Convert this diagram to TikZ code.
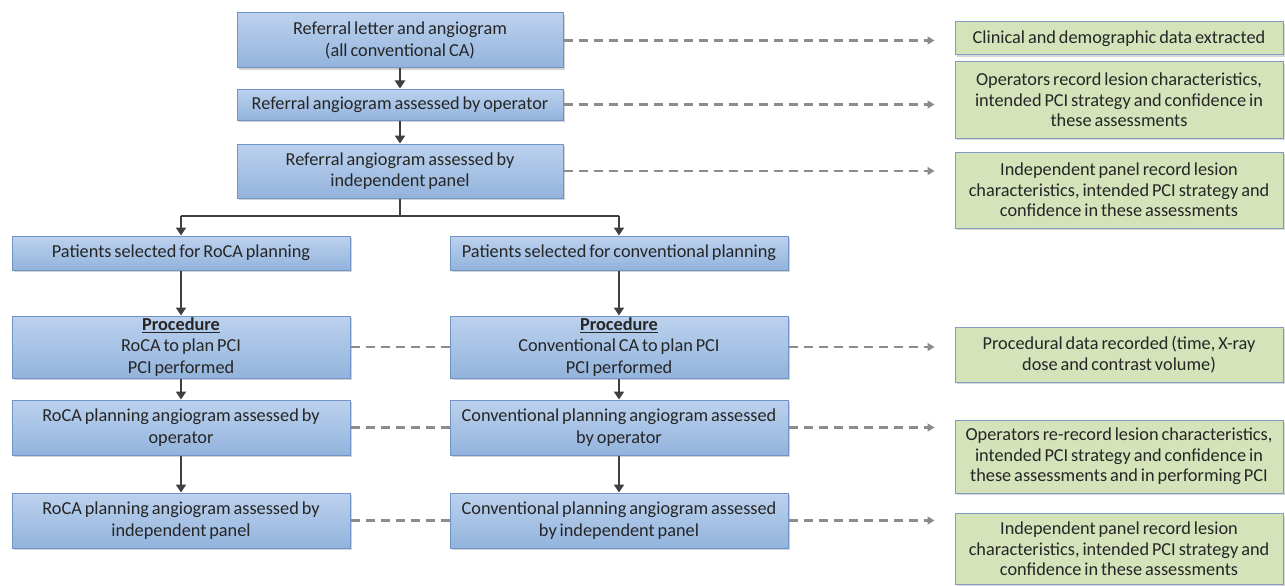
\documentclass[tikz,border=0pt]{standalone}
\usepackage{fontspec}
\setmainfont[WordSpace=0.7]{Carlito}
\usetikzlibrary{shadows,arrows.meta,calc}
\definecolor{bluetop}{HTML}{BCD2EE}
\definecolor{bluebot}{HTML}{93B3DC}
\definecolor{blueedge}{HTML}{6F93C6}
\definecolor{greenfill}{HTML}{D4E3BA}
\definecolor{greenedge}{HTML}{7F9CC0}
\definecolor{arrowdark}{HTML}{3F3F3F}
\definecolor{dashgray}{HTML}{8C8C8C}
\tikzset{
  bluebox/.style={draw=blueedge, line width=1pt, top color=bluetop, bottom color=bluebot,
    align=center, inner sep=0pt, font=\fontsize{18.3}{21.5}\selectfont, text=black!85,
    drop shadow={shadow xshift=2pt, shadow yshift=-2pt, opacity=0.35, fill=black!50}},
  greenbox/.style={draw=greenedge, line width=1pt, fill=greenfill,
    align=center, inner sep=0pt, font=\fontsize{18.3}{20.5}\selectfont, text=black!85,
    drop shadow={shadow xshift=2pt, shadow yshift=-2pt, opacity=0.3, fill=black!50}},
  solidarrow/.style={draw=arrowdark, line width=2.4pt, -{Triangle[length=8pt,width=10pt]}},
  solidline/.style={draw=arrowdark, line width=2pt},
  dasharrow/.style={draw=dashgray, line width=2.6pt, dash pattern=on 9pt off 6pt,
    -{Triangle[length=7pt,width=8pt]}, shorten >=20pt},
  dashline/.style={draw=dashgray, line width=2.6pt, dash pattern=on 9pt off 6pt},
}
\begin{document}
\begin{tikzpicture}[x=1pt,y=-1pt]
\useasboundingbox (0,0) rectangle (1285,586);
% top column
\node[bluebox, minimum width=326pt, minimum height=55pt] (b1) at (400,40.5) {Referral letter and angiogram\\(all conventional CA)};
\node[bluebox, minimum width=326pt, minimum height=31pt] (b2) at (400,104.5) {Referral angiogram assessed by operator};
\node[bluebox, minimum width=326pt, minimum height=54pt] (b3) at (400,171) {Referral angiogram assessed by\\independent panel};
% left column
\node[bluebox, minimum width=338pt, minimum height=34pt] (l1) at (181,253) {Patients selected for RoCA planning};
\node[bluebox, minimum width=338pt, minimum height=62pt] (l2) at (181,347) {\underline{\textbf{Procedure}}\\RoCA to plan PCI\\PCI performed};
\node[bluebox, minimum width=338pt, minimum height=55pt] (l3) at (181,427.5) {RoCA planning angiogram assessed by\\operator};
\node[bluebox, minimum width=338pt, minimum height=55pt] (l4) at (181,520.5) {RoCA planning angiogram assessed by\\independent panel};
% right column
\node[bluebox, minimum width=338pt, minimum height=34pt] (r1) at (619,253) {Patients selected for conventional planning};
\node[bluebox, minimum width=338pt, minimum height=62pt] (r2) at (619,347) {\underline{\textbf{Procedure}}\\Conventional CA to plan PCI\\PCI performed};
\node[bluebox, minimum width=338pt, minimum height=55pt] (r3) at (619,427.5) {Conventional planning angiogram assessed\\by operator};
\node[bluebox, minimum width=338pt, minimum height=55pt] (r4) at (619,520.5) {Conventional planning angiogram assessed\\by independent panel};
% green boxes
\node[greenbox, minimum width=328pt, minimum height=33pt] (g1) at (1119,38.5) {Clinical and demographic data extracted};
\node[greenbox, minimum width=328pt, minimum height=76pt] (g2) at (1119,100) {Operators record lesion characteristics,\\intended PCI strategy and confidence in\\these assessments};
\node[greenbox, minimum width=328pt, minimum height=76pt] (g3) at (1119,190) {Independent panel record lesion\\characteristics, intended PCI strategy and\\confidence in these assessments};
\node[greenbox, minimum width=328pt, minimum height=55pt] (g4) at (1119,354.5) {Procedural data recorded (time, X-ray\\dose and contrast volume)};
\node[greenbox, minimum width=328pt, minimum height=73pt] (g5) at (1119,456.5) {Operators re-record lesion characteristics,\\intended PCI strategy and confidence in\\these assessments and in performing PCI};
\node[greenbox, minimum width=328pt, minimum height=71pt] (g6) at (1119,549) {Independent panel record lesion\\characteristics, intended PCI strategy and\\confidence in these assessments};
% solid connectors
\draw[solidarrow] (b1) -- (b2);
\draw[solidarrow] (b2) -- (b3);
\coordinate (split) at ($(b3.south)+(0,17)$);
\draw[solidline] (b3.south) -- (split);
\draw[solidline] (split -| l1.north) -- (split -| r1.north);
\draw[solidarrow] (split -| l1.north) -- (l1.north);
\draw[solidarrow] (split -| r1.north) -- (r1.north);
\draw[solidarrow] (l1) -- (l2);
\draw[solidarrow] (l2) -- (l3);
\draw[solidarrow] (l3) -- (l4);
\draw[solidarrow] (r1) -- (r2);
\draw[solidarrow] (r2) -- (r3);
\draw[solidarrow] (r3) -- (r4);
% dashed connectors
\draw[dasharrow] (b1.east) -- (b1.east -| g1.west);
\draw[dasharrow] (b2.east) -- (b2.east -| g2.west);
\draw[dasharrow] (b3.east) -- (b3.east -| g3.west);
\draw[dasharrow] (r2.east) -- (r2.east -| g4.west);
\draw[dasharrow] (r3.east) -- (r3.east -| g5.west);
\draw[dasharrow] (r4.east) -- (r4.east -| g6.west);
\draw[dashline] (l2.east) -- (r2.west);
\draw[dashline] (l3.east) -- (r3.west);
\draw[dashline] (l4.east) -- (r4.west);
\end{tikzpicture}
\end{document}
